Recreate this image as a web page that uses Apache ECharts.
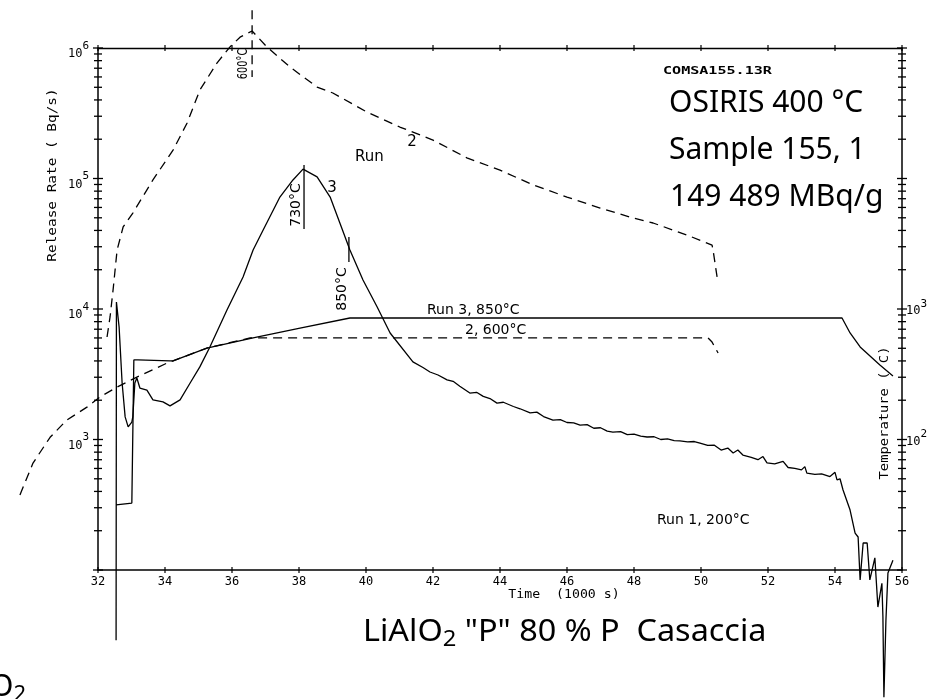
<!DOCTYPE html>
<html><head><meta charset="utf-8">
<script src="https://cdn.jsdelivr.net/npm/echarts@6.0.0/dist/echarts.min.js"></script>
<style>html,body{margin:0;padding:0;background:#fff}#c{width:947px;height:699px}</style>
</head><body><div id="c"></div><script>
// ---------- data ----------
const xTickLabels = ['32','34','36','38','40','42','44','46','48','50','52','54','56'];
const leftExponents = [3,4,5,6];
const rightExponents = [2,3];

// Run 2 release rate (dashed), Bq/s
const run2Time = [32.27,32.36,32.45,32.57,32.75,33.04,33.64,34.24,34.66,35.04,35.55,35.94,36.24,36.60,37.04,37.73,38.54,39.01,40.03,41.01,42.0,43.01,44.0,44.99,46.0,46.99,47.97,48.57,49.58,50.33,50.36,50.48];
const run2Release = [6100,8690,14000,28300,42500,54400,97500,165000,266000,476000,767000,1020000,1210000,1350000,1020000,715000,502000,452000,323000,248000,197000,144000,116000,89200,72100,59400,49800,45600,36900,30900,28300,17600];

// Run 2 temperature (dashed), deg C
const run2TempTime = [29.67,30.06,30.57,31.07,31.67,32.06,32.57,33.16,34.06,34.24,35.25,36.54,50.21,50.33,50.51];
const run2Temp = [37.6,66,104,141,177,212,252,301,385,400,502,600,600,558,460];

// Run 3 release rate (solid), Bq/s
const run3Time = [32.54,32.55,32.63,32.72,32.81,32.90,33.01,33.04,33.10,33.16,33.25,33.46,33.64,33.94,34.15,34.45,34.75,35.04,35.34,35.85,36.33,36.63,36.93,37.43,37.82,38.12,38.54,38.93,39.22,39.52,39.91,40.33,40.72,41.40,41.70,41.91,42.15,42.42,42.60,42.80,43.10,43.30,43.50,43.70,43.91,44.10,44.40,44.60,44.90,45.10,45.30,45.58,45.80,46.00,46.20,46.39,46.60,46.80,47.00,47.20,47.37,47.60,47.80,48.00,48.20,48.39,48.60,48.80,49.00,49.20,49.37,49.60,49.80,49.97,50.20,50.40,50.60,50.80,50.96,51.10,51.25,51.50,51.70,51.85,51.97,52.20,52.45,52.60,52.80,53.00,53.10,53.16,53.40,53.60,53.85,54.00,54.06,54.15,54.24,54.45,54.60,54.69,54.75,54.84,54.96,55.04,55.19,55.28,55.40,55.43,55.46,55.52,55.58,55.73];
const run3Release = [29,11300,7280,2710,1490,1250,1360,1500,2710,2960,2480,2390,2010,1940,1810,2010,2710,3600,5120,9820,17600,28300,40300,72100,97500,118000,103000,72100,45600,28300,16700,10400,6550,3930,3560,3290,3120,2860,2790,2560,2270,2300,2140,2060,1900,1930,1790,1720,1600,1620,1500,1410,1420,1350,1340,1290,1300,1220,1230,1160,1140,1150,1090,1100,1060,1045,1050,1000,1010,980,975,960,965,940,900,905,830,860,789,830,760,730,700,740,661,650,680,610,600,585,620,553,540,545,520,560,490,500,410,288,192,179,84,161,161,84,124,52,79,44,10.6,41,95,119];

// Run 3 temperature (solid), deg C
const run3TempTime = [32.54,33.01,33.07,33.19,34.15,34.24,35.25,36.63,38.03,39.52,54.21,54.45,54.75,55.34,55.73];
const run3Temp = [31.5,32.6,407,407,400,400,502,600,715,853,853,655,512,372,307];

// peak markers (time, release range)
const marker600Time = [36.60,36.60], marker600Val = [1950000,600000];
const marker730Time = [38.15,38.15], marker730Val = [127000,41000];
const marker850Time = [39.49,39.49], marker850Val = [35600,22900];

// ---------- chart ----------
const xMin = 32, xMax = 56, xMinWide = 29.5;
const MONO = '"DejaVu Sans Mono", monospace';
const HAND = '"DejaVu Sans", sans-serif';
const SANS = '"Noto Sans", "Open Sans", sans-serif';

const gridLeft = 98, gridRight = 45;
const plotW = 947 - gridLeft - gridRight;
const pxPerUnit = plotW / (xMax - xMin);
const wideLeft = gridLeft - (xMin - xMinWide) * pxPerUnit;

const yTickVals = [];
for (let d = 100; d <= 1e6; d *= 10) {
  yTickVals.push(d);
  if (d < 1e6) for (let m = 2; m <= 9; m++) yTickVals.push(m * d);
}
const xTickVals = xTickLabels.map(Number);

function pair(t, v) { return t.map((x, i) => [x, v[i]]); }
function lineSeries(t, v, xIdx, yIdx, dashed, w) {
  return {
    type: 'line', xAxisIndex: xIdx, yAxisIndex: yIdx, data: pair(t, v),
    symbol: 'none', showSymbol: false, clip: false, silent: true, animation: false,
    lineStyle: { color: '#000', width: w || 1.3, type: dashed ? [9, 6] : 'solid' }, z: 3
  };
}

const chart = echarts.init(document.getElementById('c'), null, { renderer: 'canvas' });
const option = {
  backgroundColor: '#fff',
  animation: false,
  grid: [
    { left: gridLeft, right: gridRight, top: 48, bottom: 129, containLabel: false, outerBoundsMode: 'none' },
    { left: wideLeft, right: gridRight, top: 48, bottom: 129, containLabel: false, outerBoundsMode: 'none', show: false }
  ],
  xAxis: [
    { type: 'value', gridIndex: 0, min: xMin, max: xMax, interval: 2, position: 'bottom',
      axisLine: { show: true, onZero: false, lineStyle: { color: '#000', width: 1.5 } },
      axisTick: { show: false }, splitLine: { show: false },
      axisLabel: { margin: 6, color: '#000', fontFamily: MONO, fontSize: 12,
        formatter: v => xTickLabels[xTickVals.indexOf(v)] || '' } },
    { type: 'value', gridIndex: 0, min: xMin, max: xMax, interval: 2, position: 'top',
      axisLine: { show: true, onZero: false, lineStyle: { color: '#000', width: 1.3 } },
      axisTick: { show: false }, axisLabel: { show: false }, splitLine: { show: false } },
    { type: 'value', gridIndex: 1, min: xMinWide, max: xMax, show: false,
      axisLine: { show: false }, axisTick: { show: false }, axisLabel: { show: false }, splitLine: { show: false } }
  ],
  yAxis: [
    { type: 'log', logBase: 10, gridIndex: 0, min: 100, max: 1e6, position: 'left',
      axisLine: { show: true, onZero: false, lineStyle: { color: '#000', width: 1.5 } },
      axisTick: { show: false }, splitLine: { show: false },
      axisLabel: { margin: 9, color: '#000',
        formatter: v => { const e = Math.round(Math.log10(v)); return leftExponents.includes(e) ? '{b|10}{s|' + e + '}' : ''; },
        rich: { b: { fontFamily: MONO, fontSize: 12, color: '#000', padding: [12, 0, 0, 0] },
                s: { fontFamily: MONO, fontSize: 11, color: '#000', padding: [0, 0, 4, 0] } } } },
    { type: 'log', logBase: 10, gridIndex: 0, min: 10, max: 1e5, position: 'right',
      axisLine: { show: true, onZero: false, lineStyle: { color: '#000', width: 1.5 } },
      axisTick: { show: false }, splitLine: { show: false },
      axisLabel: { margin: 4, color: '#000',
        formatter: v => { const e = Math.round(Math.log10(v)); return rightExponents.includes(e) ? '{b|10}{s|' + e + '}' : ''; },
        rich: { b: { fontFamily: MONO, fontSize: 12, color: '#000', padding: [4, 0, 0, 0] },
                s: { fontFamily: MONO, fontSize: 11, color: '#000', padding: [0, 0, 10, 0] } } } },
    { type: 'log', logBase: 10, gridIndex: 1, min: 10, max: 1e5, show: false,
      axisLine: { show: false }, axisTick: { show: false }, axisLabel: { show: false }, splitLine: { show: false } }
  ],
  series: [
    // y ticks (both sides)
    { type: 'custom', coordinateSystem: 'cartesian2d', xAxisIndex: 0, yAxisIndex: 0, clip: false, silent: true,
      data: yTickVals.map(v => [xMin, v]), encode: { x: 0, y: 1 },
      renderItem: (p, api) => {
        const v = api.value(1);
        const major = Math.abs(Math.log10(v) - Math.round(Math.log10(v))) < 1e-9;
        const h = major ? 5 : 4;
        const L = api.coord([xMin, v]), R = api.coord([xMax, v]);
        const st = { stroke: '#000', lineWidth: 1.3 };
        return { type: 'group', children: [
          { type: 'line', shape: { x1: L[0] - h, y1: L[1], x2: L[0] + h, y2: L[1] }, style: st },
          { type: 'line', shape: { x1: R[0] - h, y1: R[1], x2: R[0] + h, y2: R[1] }, style: st }
        ] };
      } },
    // x ticks (bottom and top)
    { type: 'custom', coordinateSystem: 'cartesian2d', xAxisIndex: 0, yAxisIndex: 0, clip: false, silent: true,
      data: xTickVals.map(t => [t, 100]), encode: { x: 0, y: 1 },
      renderItem: (p, api) => {
        const t = api.value(0);
        const B = api.coord([t, 100]), T = api.coord([t, 1e6]);
        const st = { stroke: '#000', lineWidth: 1.2 };
        return { type: 'group', children: [
          { type: 'line', shape: { x1: B[0], y1: B[1] - 3, x2: B[0], y2: B[1] + 3 }, style: st },
          { type: 'line', shape: { x1: T[0], y1: T[1] - 3, x2: T[0], y2: T[1] + 3 }, style: st }
        ] };
      } },
    lineSeries(run2Time, run2Release, 0, 0, true),
    lineSeries(run2TempTime, run2Temp, 2, 2, true),
    lineSeries(run3Time, run3Release, 0, 0, false),
    lineSeries(run3TempTime, run3Temp, 0, 1, false),
    lineSeries(marker600Time, marker600Val, 0, 0, true),
    lineSeries(marker730Time, marker730Val, 0, 0, false),
    lineSeries(marker850Time, marker850Val, 0, 0, false)
  ],
  graphic: [
    { type: 'text', x: 53, y: 175, rotation: Math.PI / 2, scaleX: 1.2,
      style: { text: 'Release Rate ( Bq/s)', fontFamily: MONO, fontSize: 12, fill: '#000', align: 'center', verticalAlign: 'middle' } },
    { type: 'text', x: 885, y: 413, rotation: Math.PI / 2, scaleX: 1.15,
      style: { text: 'Temperature ( C)', fontFamily: MONO, fontSize: 12, fill: '#000', align: 'center', verticalAlign: 'middle' } },
    { type: 'text', x: 564, y: 595, scaleX: 1.1,
      style: { text: 'Time  (1000 s)', fontFamily: MONO, fontSize: 12, fill: '#000', align: 'center', verticalAlign: 'middle' } },
    { type: 'text', x: 663, y: 71, scaleX: 1.37,
      style: { text: 'COMSA155.13R', fontFamily: MONO, fontSize: 11, fontWeight: 'bold', fill: '#000', align: 'left', verticalAlign: 'middle' } },
    { type: 'text', x: 669, y: 103,
      style: { text: 'OSIRIS 400 °C', fontFamily: SANS, fontSize: 30, fill: '#000', align: 'left', verticalAlign: 'middle' } },
    { type: 'text', x: 669, y: 150,
      style: { text: 'Sample 155, 1', fontFamily: SANS, fontSize: 30, fill: '#000', align: 'left', verticalAlign: 'middle' } },
    { type: 'text', x: 670, y: 197,
      style: { text: '149 489 MBq/g', fontFamily: SANS, fontSize: 30, fill: '#000', align: 'left', verticalAlign: 'middle' } },
    { type: 'text', x: 363, y: 632, scaleX: 1.08,
      style: { text: '{m|LiAlO}{s|2}{m| "P" 80 % P  Casaccia}', fill: '#000', align: 'left', verticalAlign: 'middle',
        rich: { m: { fontFamily: SANS, fontSize: 30, fill: '#000' }, s: { fontFamily: SANS, fontSize: 22, fill: '#000', padding: [16, 0, 0, 0] } } } },
    { type: 'text', x: -10, y: 687,
      style: { text: '{m|O}{s|2}', fill: '#000', align: 'left', verticalAlign: 'middle',
        rich: { m: { fontFamily: SANS, fontSize: 30, fill: '#000' }, s: { fontFamily: SANS, fontSize: 22, fill: '#000', padding: [16, 0, 0, 0] } } } },
    // handwritten annotations
    { type: 'text', x: 243, y: 64, rotation: Math.PI / 2, scaleX: 0.7,
      style: { text: '600°C', fontFamily: HAND, fontSize: 14, fill: '#000', align: 'center', verticalAlign: 'middle' } },
    { type: 'text', x: 296, y: 205, rotation: Math.PI / 2,
      style: { text: '730°C', fontFamily: HAND, fontSize: 14, fill: '#000', align: 'center', verticalAlign: 'middle' } },
    { type: 'text', x: 342, y: 289, rotation: Math.PI / 2,
      style: { text: '850°C', fontFamily: HAND, fontSize: 14, fill: '#000', align: 'center', verticalAlign: 'middle' } },
    { type: 'text', x: 332, y: 188,
      style: { text: '3', fontFamily: HAND, fontSize: 15, fill: '#000', align: 'center', verticalAlign: 'middle' } },
    { type: 'text', x: 355, y: 157,
      style: { text: 'Run', fontFamily: HAND, fontSize: 15, fill: '#000', align: 'left', verticalAlign: 'middle' } },
    { type: 'text', x: 412, y: 142,
      style: { text: '2', fontFamily: HAND, fontSize: 15, fill: '#000', align: 'center', verticalAlign: 'middle' } },
    { type: 'text', x: 427, y: 310,
      style: { text: 'Run 3, 850°C', fontFamily: HAND, fontSize: 14, fill: '#000', align: 'left', verticalAlign: 'middle' } },
    { type: 'text', x: 465, y: 330,
      style: { text: '2, 600°C', fontFamily: HAND, fontSize: 14, fill: '#000', align: 'left', verticalAlign: 'middle' } },
    { type: 'text', x: 657, y: 520,
      style: { text: 'Run 1, 200°C', fontFamily: HAND, fontSize: 14, fill: '#000', align: 'left', verticalAlign: 'middle' } }
  ]
};
chart.setOption(option);
</script></body></html>
